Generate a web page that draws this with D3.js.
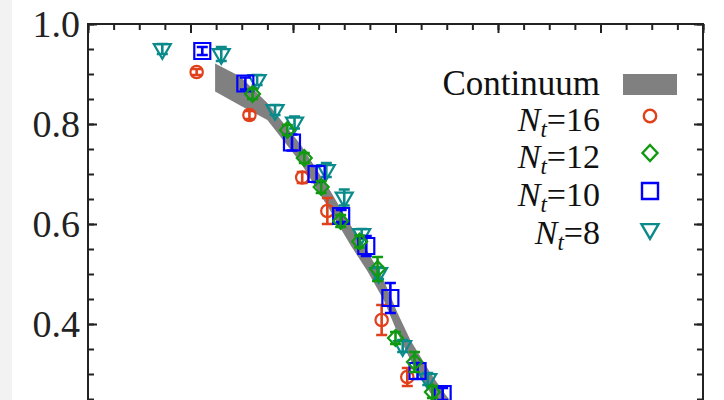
<!DOCTYPE html>
<html><head><meta charset="utf-8">
<script src="https://cdn.jsdelivr.net/npm/d3@7"></script>
<style>
html,body{margin:0;padding:0;background:#fff;overflow:hidden;}
svg{display:block;}
</style></head><body>
<svg id="chart" width="724" height="400"></svg>
<script>
// Temperature axis (MeV) and normalised order parameter
const xDomain = [100, 220];
const yDomain = [0, 1];
const yMajor = [0.2, 0.4, 0.6, 0.8, 1.0];
const yTickLabels = ["0.4", "0.6", "0.8", "1.0"];

// Lattice results, one set of arrays per temporal extent N_t
const nt16T = [121.2, 131.5, 141.8, 146.7, 157.3, 162.3];
const nt16V = [0.904, 0.818, 0.693, 0.626, 0.408, 0.294];
const nt16E = [0.006, 0.008, 0.011, 0.026, 0.030, 0.018];

const nt12T = [132.1, 138.9, 142.2, 145.5, 149.3, 153.0, 156.5, 160.0, 163.7, 167.2];
const nt12V = [0.860, 0.788, 0.732, 0.674, 0.606, 0.565, 0.510, 0.372, 0.324, 0.264];
const nt12E = [0.010, 0.010, 0.010, 0.012, 0.012, 0.012, 0.024, 0.012, 0.020, 0.012];

const nt10T = [122.3, 130.7, 139.8, 144.6, 149.4, 154.3, 159.0, 164.3, 169.2];
const nt10V = [0.946, 0.881, 0.763, 0.700, 0.616, 0.556, 0.452, 0.306, 0.260];
const nt10E = [0.008, 0.012, 0.016, 0.016, 0.012, 0.020, 0.030, 0.016, 0.012];

const nt8T = [114.5, 126.0, 133.0, 136.5, 140.3, 146.5, 150.0, 153.4, 156.7, 161.4, 166.3];
const nt8V = [0.950, 0.940, 0.888, 0.828, 0.803, 0.708, 0.653, 0.580, 0.502, 0.356, 0.290];
const nt8E = [0.010, 0.014, 0.010, 0.010, 0.012, 0.014, 0.016, 0.010, 0.012, 0.012, 0.012];

// Continuum extrapolation band
const bandT  = [124.8, 129.7, 135.0, 141.4, 147.3, 151.2, 154.5, 157.7, 160.4, 162.9, 166.8, 169.8, 176.0];
const bandLo = [0.865, 0.837, 0.808, 0.724, 0.626, 0.558, 0.506, 0.448, 0.382, 0.328, 0.262, 0.218, 0.140];
const bandHi = [0.921, 0.895, 0.842, 0.760, 0.666, 0.598, 0.546, 0.488, 0.422, 0.368, 0.302, 0.258, 0.180];

const series = [
  {label: "8",  shape: "tri",     color: "#0a8a8a", T: nt8T,  V: nt8V,  E: nt8E},
  {label: "16", shape: "circle",  color: "#e0401a", T: nt16T, V: nt16V, E: nt16E},
  {label: "10", shape: "square",  color: "#0000ff", T: nt10T, V: nt10V, E: nt10E},
  {label: "12", shape: "diamond", color: "#119911", T: nt12T, V: nt12V, E: nt12E}
];
const legendOrder = ["16", "12", "10", "8"];

const svg = d3.select("#chart");
const W = 724, H = 400;
const plotL = 88, plotR = 703, plotT = 24, plotB = 524;
const FONT = "'Liberation Serif','Times New Roman',serif";

svg.append("rect").attr("width", W).attr("height", H).attr("fill", "#fff");
svg.append("rect").attr("width", 12).attr("height", H).attr("fill", "#f2f2f2");

const x = d3.scaleLinear().domain(xDomain).range([plotL, plotR]);
const y = d3.scaleLinear().domain(yDomain).range([plotB, plotT]);

svg.append("defs").append("clipPath").attr("id", "plot")
  .append("rect").attr("x", plotL).attr("y", plotT).attr("width", plotR - plotL).attr("height", plotB - plotT);

// band
const bandData = bandT.map((t, i) => ({t, lo: bandLo[i], hi: bandHi[i]}));
svg.append("path")
  .datum(bandData)
  .attr("clip-path", "url(#plot)")
  .attr("fill", "#808080")
  .attr("d", d3.area().x(d => x(d.t)).y0(d => y(d.lo)).y1(d => y(d.hi)));

// marker outlines
function markerPath(shape) {
  const p = d3.path();
  if (shape === "circle") { p.arc(0, 0, 6.2, 0, 2 * Math.PI); }
  else if (shape === "square") { p.rect(-8, -8, 16, 16); }
  else if (shape === "diamond") { p.moveTo(0, -8); p.lineTo(7.5, 0); p.lineTo(0, 8); p.lineTo(-7.5, 0); p.closePath(); }
  else { const s = 8.5, h = 14.7; p.moveTo(-s, -h / 3); p.lineTo(s, -h / 3); p.lineTo(0, 2 * h / 3); p.closePath(); }
  return p.toString();
}

const gData = svg.append("g").attr("clip-path", "url(#plot)");
series.forEach(s => {
  const pts = s.T.map((t, i) => ({t, v: s.V[i], e: s.E[i]}));
  const g = gData.append("g");
  const cap = 5.5;
  pts.forEach(d => {
    const cx = x(d.t), cy = y(d.v), y1 = y(d.v + d.e), y2 = y(d.v - d.e);
    g.append("path")
      .attr("d", `M${cx},${y1}V${y2}M${cx - cap},${y1}H${cx + cap}M${cx - cap},${y2}H${cx + cap}`)
      .attr("stroke", s.color).attr("stroke-width", 2.6).attr("fill", "none");
    g.append("path")
      .attr("transform", `translate(${cx},${cy})`)
      .attr("d", markerPath(s.shape))
      .attr("fill", "none").attr("stroke", s.color).attr("stroke-width", 2.2);
  });
});

// axes: ticks point into the plot
const yMinor = d3.range(0.2, 1.0001, 0.05);
const xMinor = d3.range(100, 220.001, 5);
const xMajor = d3.range(100, 220.001, 20);
const fmt = d3.format(".1f");

function styleAxis(g) {
  g.select(".domain").remove();
  g.selectAll(".tick line").attr("stroke", "#222").attr("stroke-width", 2);
}

svg.append("g").attr("transform", `translate(${plotL},0)`)
  .call(d3.axisLeft(y).tickValues(yMinor).tickSize(-6).tickFormat(""))
  .call(styleAxis);
svg.append("g").attr("transform", `translate(${plotL},0)`)
  .call(d3.axisLeft(y).tickValues(yMajor).tickSize(-9).tickPadding(8)
    .tickFormat(d => yTickLabels.includes(fmt(d)) ? fmt(d) : ""))
  .call(styleAxis)
  .call(g => g.selectAll("text").attr("font-family", FONT).attr("font-size", 38).attr("fill", "#222"));

svg.append("g").attr("transform", `translate(${plotR},0)`)
  .call(d3.axisRight(y).tickValues(yMinor).tickSize(-6).tickFormat(""))
  .call(styleAxis);
svg.append("g").attr("transform", `translate(${plotR},0)`)
  .call(d3.axisRight(y).tickValues(yMajor).tickSize(-9).tickFormat(""))
  .call(styleAxis);

svg.append("g").attr("transform", `translate(0,${plotT})`)
  .call(d3.axisTop(x).tickValues(xMinor).tickSize(-6).tickFormat(""))
  .call(styleAxis);
svg.append("g").attr("transform", `translate(0,${plotT})`)
  .call(d3.axisTop(x).tickValues(xMajor).tickSize(-9).tickFormat(""))
  .call(styleAxis);

// frame
svg.append("rect")
  .attr("x", plotL).attr("y", plotT).attr("width", plotR - plotL).attr("height", plotB - plotT)
  .attr("fill", "none").attr("stroke", "#222").attr("stroke-width", 2);

// legend
const lg = svg.append("g").attr("font-family", FONT).attr("fill", "#111");
const textX = 600, markX = 650;
lg.append("text").attr("x", textX).attr("y", 95).attr("text-anchor", "end")
  .attr("font-size", 35).text("Continuum");
lg.append("rect").attr("x", markX - 27).attr("y", 74).attr("width", 54).attr("height", 21).attr("fill", "#808080");

const rowBase = [131, 168, 206, 244];
legendOrder.forEach((lab, i) => {
  const s = series.find(d => d.label === lab);
  const t = lg.append("text").attr("x", textX).attr("y", rowBase[i]).attr("text-anchor", "end").attr("font-size", 34);
  t.append("tspan").attr("font-style", "italic").text("N");
  t.append("tspan").attr("font-style", "italic").attr("font-size", 23).attr("dy", 6).text("t");
  t.append("tspan").attr("dy", -6).text("=" + lab);
  lg.append("path")
    .attr("transform", `translate(${markX},${rowBase[i] - 15})`)
    .attr("d", markerPath(s.shape))
    .attr("fill", "none").attr("stroke", s.color).attr("stroke-width", 2.4);
});
</script>
</body></html>
